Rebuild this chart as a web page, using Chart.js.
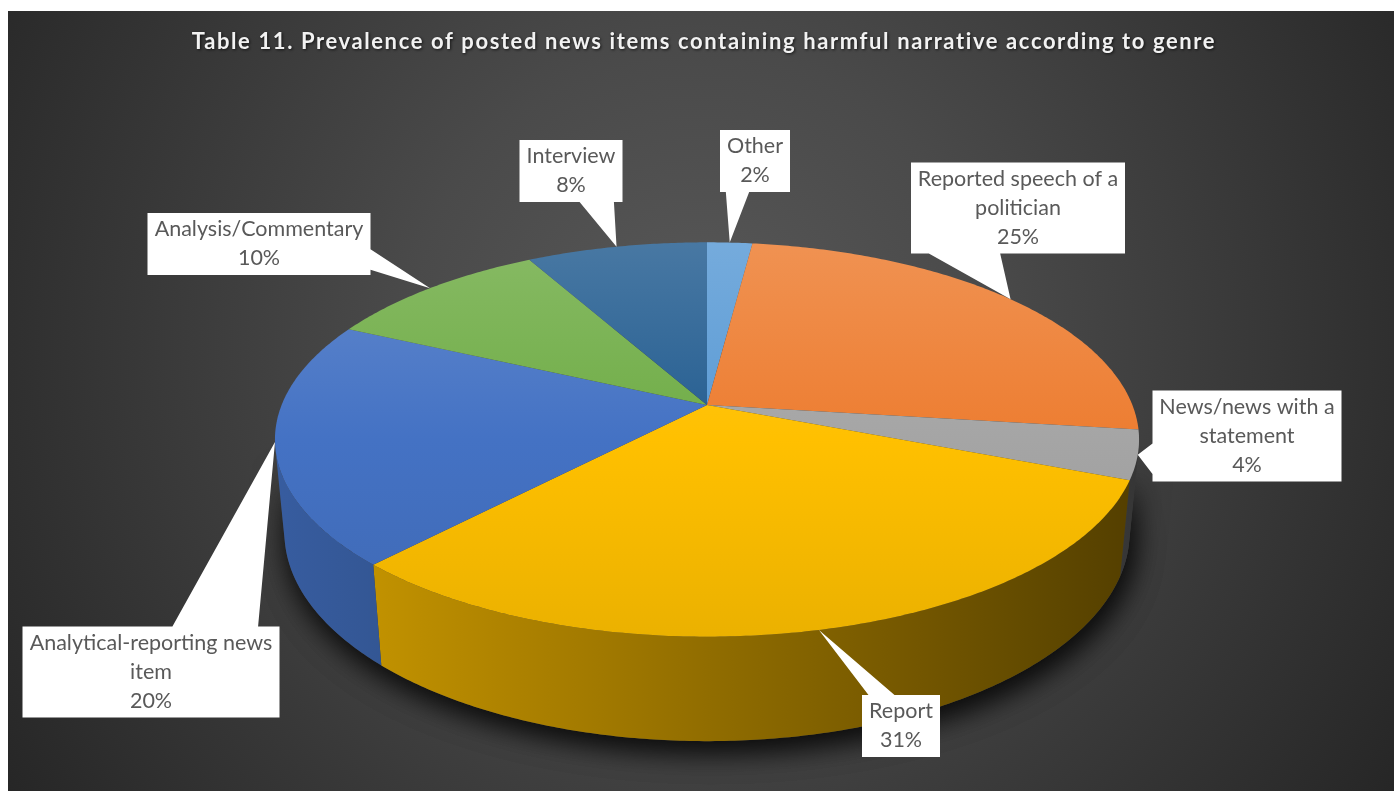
<!DOCTYPE html>
<html>
<head>
<meta charset="utf-8">
<title>Harmful narrative by genre</title>
<script src="https://cdn.jsdelivr.net/npm/chart.js@4.4.1/dist/chart.umd.min.js"></script>
<style>
  html, body { margin: 0; padding: 0; background: #fff; }
  #wrap { position: absolute; left: 8px; top: 11px; width: 1386px; height: 780px; }
</style>
</head>
<body>
<div id="wrap"><canvas id="genreChart"></canvas></div>
<script>
const chartTitle = 'Table 11. Prevalence of posted news items containing harmful narrative according to genre';
const genreLabels = ['Other', 'Reported speech of a politician', 'News/news with a statement', 'Report',
    'Analytical-reporting news item', 'Analysis/Commentary', 'Interview'];
const genreShares = [2, 25, 4, 31, 20, 10, 8];
const sliceColors = ['#5B9BD5', '#ED7D31', '#A5A5A5', '#FFC000', '#4472C4', '#70AD47', '#255E91'];

// where each callout box sits (box centre, canvas px)
const calloutCenters = [[747, 150], [1010, 197], [1239, 425], [893, 715], [143, 661], [251, 233], [563, 160]];

// tilted camera, lengths in pie radii
const view = { tilt: 26.7 * Math.PI / 180, dist: 5.106, depth: 0.246, spread: 1.102 };

function hexRgb(hex) {
    const n = parseInt(hex.slice(1), 16);
    return [(n >> 16) & 255, (n >> 8) & 255, n & 255];
}
function shade(hex, f) {
    const c = hexRgb(hex).map(v => Math.max(0, Math.min(255, Math.round(v * f))));
    return `rgb(${c[0]},${c[1]},${c[2]})`;
}
function tint(hex, t) {
    const c = hexRgb(hex).map(v => Math.round(v + (255 - v) * t));
    return `rgb(${c[0]},${c[1]},${c[2]})`;
}

function makeProjector(cx, cy, r) {
    const s = Math.sin(view.tilt), c = Math.cos(view.tilt);
    const F = view.spread * r * view.dist;
    return (a, z) => {
        const u = Math.cos(a), v = -Math.sin(a);
        const zc = view.dist + v * c - z * s;
        return [cx + F * u / zc, cy - F * (v * s + z * c) / zc];
    };
}

function arcPoints(P, a0, a1, z) {
    const n = Math.max(2, Math.ceil(Math.abs(a1 - a0) / 0.01));
    const pts = [];
    for (let i = 0; i <= n; i++) pts.push(P(a0 + (a1 - a0) * i / n, z));
    return pts;
}

function tracePoly(ctx, pts) {
    ctx.beginPath();
    ctx.moveTo(pts[0][0], pts[0][1]);
    for (let i = 1; i < pts.length; i++) ctx.lineTo(pts[i][0], pts[i][1]);
    ctx.closePath();
}

// light comes from the left: walls facing left are brighter
function wallFactor(u) {
    return 0.57 - 0.24 * u;
}

const pie3d = {
    id: 'pie3d',
    beforeDraw(chart) {
        const { ctx, width, height } = chart;
        const g = ctx.createRadialGradient(690, 330, 0, 690, 330, 830);
        g.addColorStop(0, '#585858');
        g.addColorStop(0.35, '#4a4a4a');
        g.addColorStop(1, '#262626');
        ctx.save();
        ctx.fillStyle = g;
        ctx.fillRect(0, 0, width, height);
        ctx.restore();
    },
    beforeDatasetsDraw(chart) {
        const ctx = chart.ctx;
        const arcs = chart.getDatasetMeta(0).data;
        const { x, y, outerRadius } = arcs[0];
        const P = makeProjector(x, y, outerRadius);
        const h = -view.depth;

        // front wall is visible where the outward normal faces the camera
        const lim = Math.asin(1 / (view.dist * Math.cos(view.tilt)));
        const vis0 = lim, vis1 = Math.PI - lim;

        // drop shadow under the whole disc
        ctx.save();
        ctx.shadowColor = 'rgba(0,0,0,0.6)';
        ctx.shadowBlur = 28;
        ctx.shadowOffsetX = 4;
        ctx.shadowOffsetY = 10;
        ctx.fillStyle = '#3a3a3a';
        tracePoly(ctx, arcPoints(P, -Math.PI / 2, 3 * Math.PI / 2, h));
        ctx.fill();
        tracePoly(ctx, arcPoints(P, vis0, vis1, 0).concat(arcPoints(P, vis1, vis0, h)));
        ctx.fill();
        ctx.restore();

        const xl = P(Math.PI, 0)[0], xr = P(0, 0)[0];
        arcs.forEach((arc, i) => {
            const a0 = Math.max(arc.startAngle, vis0), a1 = Math.min(arc.endAngle, vis1);
            if (a1 <= a0) return;
            const g = ctx.createLinearGradient(xl, 0, xr, 0);
            for (let k = 0; k <= 8; k++) {
                const u = -1 + k / 4;
                g.addColorStop(k / 8, shade(sliceColors[i], wallFactor(u)));
            }
            ctx.fillStyle = g;
            tracePoly(ctx, arcPoints(P, a0, a1, 0).concat(arcPoints(P, a1, a0, h)));
            ctx.fill();
        });

        const yt = P(-Math.PI / 2, 0)[1], yb = P(Math.PI / 2, 0)[1];
        arcs.forEach((arc, i) => {
            const g = ctx.createLinearGradient(0, yt, 0, yb);
            g.addColorStop(0, tint(sliceColors[i], 0.16));
            g.addColorStop(0.5, sliceColors[i]);
            g.addColorStop(1, shade(sliceColors[i], 0.92));
            ctx.fillStyle = g;
            tracePoly(ctx, [[x, y]].concat(arcPoints(P, arc.startAngle, arc.endAngle, 0)));
            ctx.fill();
        });
        return false;
    },
    afterDraw(chart) {
        const ctx = chart.ctx;
        const arcs = chart.getDatasetMeta(0).data;
        const { x, y, outerRadius } = arcs[0];
        const P = makeProjector(x, y, outerRadius);

        // title
        ctx.save();
        ctx.font = 'bold 22px Lato';
        ctx.letterSpacing = '1.6px';
        ctx.textAlign = 'center';
        ctx.textBaseline = 'alphabetic';
        ctx.shadowColor = 'rgba(0,0,0,0.7)';
        ctx.shadowBlur = 3;
        ctx.shadowOffsetX = 1;
        ctx.shadowOffsetY = 1;
        ctx.fillStyle = '#f2f2f2';
        ctx.fillText(chartTitle, 696, 38);
        ctx.restore();

        // data callouts
        ctx.save();
        ctx.font = '21.5px Lato';
        ctx.textAlign = 'center';
        ctx.textBaseline = 'middle';
        const total = genreShares.reduce((s, v) => s + v, 0);
        arcs.forEach((arc, i) => {
            const lines = wrapText(ctx, genreLabels[i], 256);
            lines.push(Math.round(genreShares[i] / total * 100) + '%');
            const tw = Math.max(...lines.map(l => ctx.measureText(l).width));
            const bw = Math.round(tw + 14), bh = lines.length * 29 + 4;
            const [ccx, ccy] = calloutCenters[i];
            const bx = ccx - bw / 2, by = ccy - bh / 2;
            const [tx, ty] = P((arc.startAngle + arc.endAngle) / 2, 0);
            calloutPath(ctx, bx, by, bw, bh, tx, ty);
            ctx.fillStyle = '#ffffff';
            ctx.fill();
            ctx.fillStyle = '#595959';
            lines.forEach((l, k) => ctx.fillText(l, ccx, by + 2 + 14.5 + k * 29));
        });
        ctx.restore();
    }
};

function wrapText(ctx, text, maxW) {
    const words = text.split(' ');
    const lines = [];
    let cur = '';
    words.forEach(w => {
        const t = cur ? cur + ' ' + w : w;
        if (cur && ctx.measureText(t).width > maxW) {
            lines.push(cur);
            cur = w;
        } else {
            cur = t;
        }
    });
    lines.push(cur);
    return lines;
}

// rectangle with a wedge pointing at (tx, ty)
function calloutPath(ctx, x, y, w, h, tx, ty) {
    const cx = x + w / 2, cy = y + h / 2;
    const dx = (tx - cx) * h / w, dy = ty - cy;
    const vert = Math.abs(dy) >= Math.abs(dx);
    const side = vert ? (dy < 0 ? 'top' : 'bottom') : (dx > 0 ? 'right' : 'left');
    const hx = tx < cx ? [1 / 12, 5 / 12] : [7 / 12, 11 / 12];
    const hy = ty < cy ? [1 / 12, 5 / 12] : [7 / 12, 11 / 12];
    ctx.beginPath();
    ctx.moveTo(x, y);
    if (side === 'top') {
        ctx.lineTo(x + w * hx[0], y); ctx.lineTo(tx, ty); ctx.lineTo(x + w * hx[1], y);
    }
    ctx.lineTo(x + w, y);
    if (side === 'right') {
        ctx.lineTo(x + w, y + h * hy[0]); ctx.lineTo(tx, ty); ctx.lineTo(x + w, y + h * hy[1]);
    }
    ctx.lineTo(x + w, y + h);
    if (side === 'bottom') {
        ctx.lineTo(x + w * hx[1], y + h); ctx.lineTo(tx, ty); ctx.lineTo(x + w * hx[0], y + h);
    }
    ctx.lineTo(x, y + h);
    if (side === 'left') {
        ctx.lineTo(x, y + h * hy[1]); ctx.lineTo(tx, ty); ctx.lineTo(x, y + h * hy[0]);
    }
    ctx.closePath();
}

const genreChart = new Chart(document.getElementById('genreChart'), {
    type: 'pie',
    data: {
        labels: genreLabels,
        datasets: [{
            data: genreShares,
            backgroundColor: sliceColors,
            borderWidth: 0
        }]
    },
    options: {
        responsive: true,
        maintainAspectRatio: false,
        animation: false,
        layout: { padding: { left: 12, top: 8, right: 0, bottom: 0 } },
        plugins: {
            legend: { display: false },
            title: { display: false },
            tooltip: { enabled: false }
        }
    },
    plugins: [pie3d]
});
</script>
</body>
</html>
